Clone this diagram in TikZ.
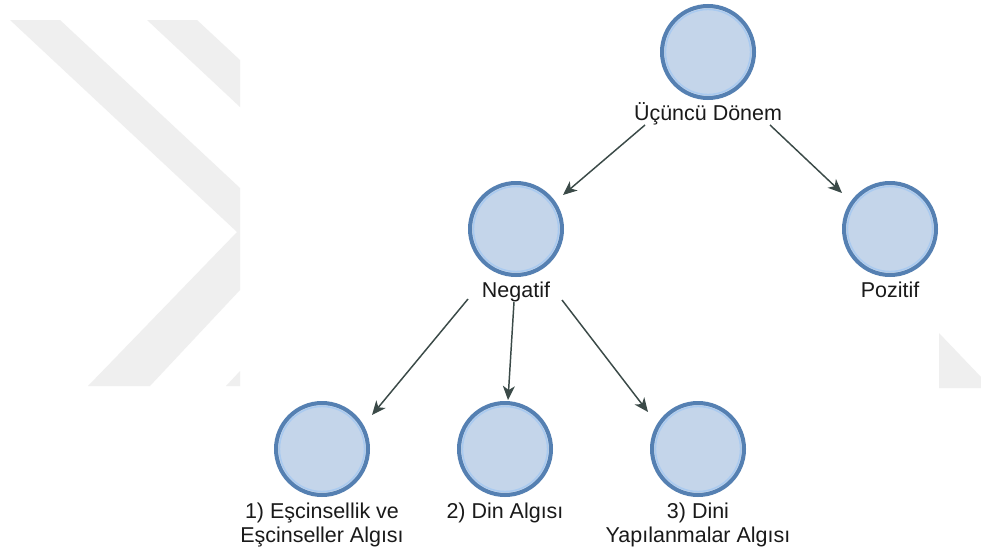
\documentclass[tikz,border=0pt]{standalone}
\usepackage{fontspec}
\setmainfont{Liberation Sans}
\usetikzlibrary{arrows.meta}
\definecolor{ringdark}{HTML}{5580B2}
\definecolor{ringlight}{HTML}{A9CAF0}
\definecolor{circfill}{HTML}{C4D5EA}
\definecolor{arrowcol}{HTML}{3B4A48}
\definecolor{wmark}{HTML}{EFEFEF}
\definecolor{txt}{HTML}{1A1A1A}
\tikzset{
  circ/.style={circle, draw=ringdark, fill=circfill, line width=3pt,
    minimum size=69pt, inner sep=0pt, outer sep=0pt},
  lbl/.style={anchor=base, align=center, text=txt, inner sep=0pt,
    font=\fontsize{16.1pt}{18pt}\selectfont},
  arr/.style={draw=arrowcol, line width=1.1pt,
    -{Stealth[length=10.5pt, width=9pt, inset=3pt]}},
  wm/.style={fill=wmark, draw=none}
}
\newcommand{\innerring}[1]{\draw[ringlight, line width=1.1pt] (#1.center) circle (31.9pt);}
\begin{document}
\begin{tikzpicture}[x=0.75pt, y=-0.75pt]
\useasboundingbox (0,0) rectangle (981,553);
\fill[white] (0,0) rectangle (981,553);
% watermark
\fill[wm] (10,20) -- (60,20) -- (240,188) -- (240,290) -- (150,386) -- (88,386) -- (237,232) -- cycle;
\fill[wm] (147,20) -- (197,20) -- (240,60) -- (240,107) -- cycle;
\fill[wm] (226,386) -- (240,371) -- (240,386) -- cycle;
\fill[wm] (939,333) -- (981,377) -- (981,388) -- (939,388) -- cycle;
% nodes
\node[circ] (top) at (708,52) {};
\node[circ] (neg) at (516,229) {};
\node[circ] (poz) at (890,229) {};
\node[circ] (n1) at (322,449) {};
\node[circ] (n2) at (505,449) {};
\node[circ] (n3) at (698,449) {};
\innerring{top}\innerring{neg}\innerring{poz}\innerring{n1}\innerring{n2}\innerring{n3}
\node[lbl] (topl) at (708,120) {Üçüncü Dönem};
\node[lbl] (negl) at (516,297) {Negatif};
\node[lbl] (pozl) at (890,297) {Pozitif};
\node[lbl] (n1l) at (322,542) {1) Eşcinsellik ve\\Eşcinseller Algısı};
\node[lbl] (n2l) at (505,518) {2) Din Algısı};
\node[lbl] (n3l) at (698,542) {3) Dini\\Yapılanmalar Algısı};
% connectors
\draw[arr] ([shift={(-63,5)}]topl.base) -- ([shift={(47,-34)}]neg.center);
\draw[arr] ([shift={(62,5)}]topl.base) -- ([shift={(-48,-36)}]poz.center);
\draw[arr] ([shift={(-48,2)}]negl.base) -- ([shift={(50,-34)}]n1.center);
\draw[arr] ([shift={(-2,5)}]negl.base) -- ([shift={(3,-49)}]n2.center);
\draw[arr] ([shift={(46,3)}]negl.base) -- ([shift={(-50,-37)}]n3.center);
\end{tikzpicture}
\end{document}
